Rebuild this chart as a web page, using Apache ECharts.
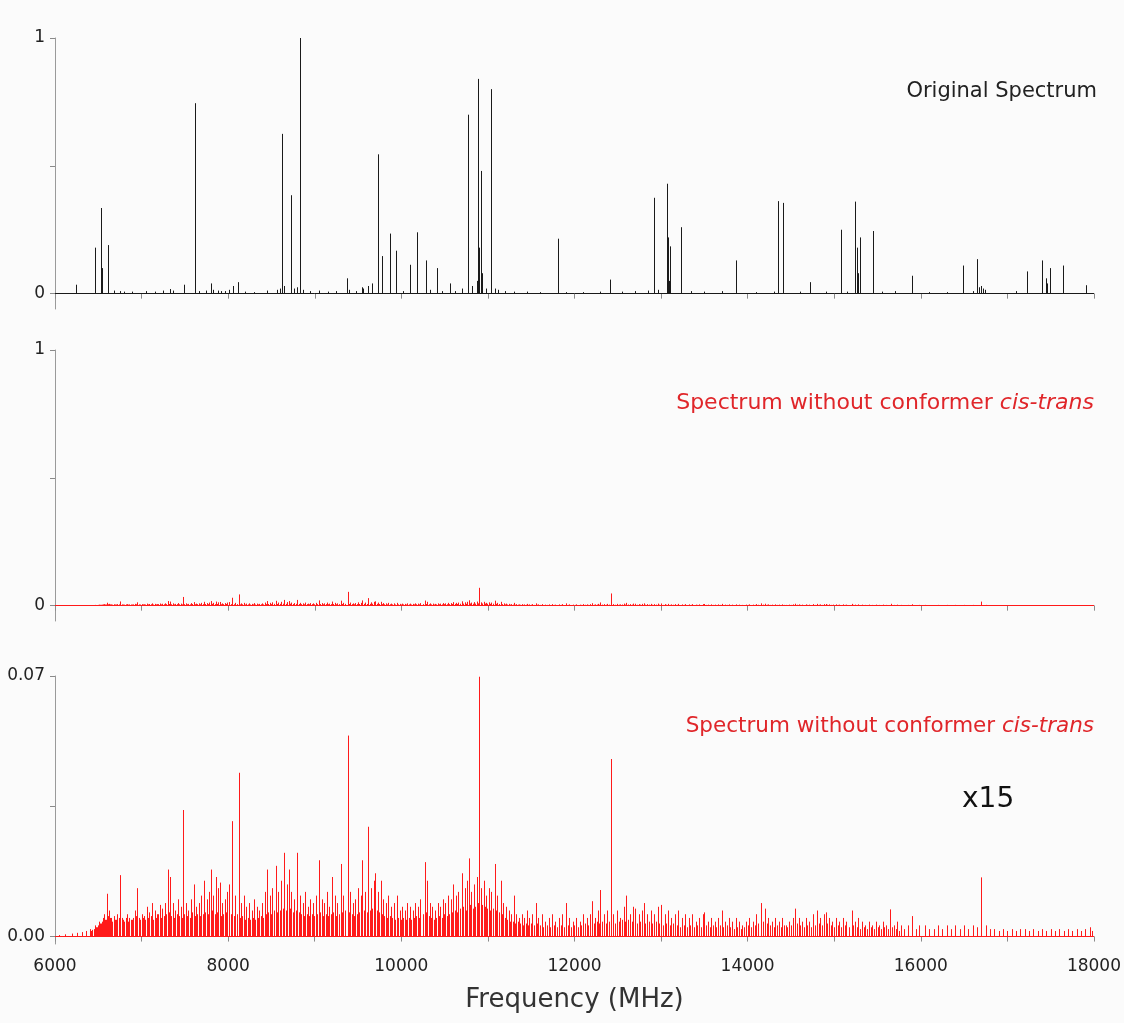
<!DOCTYPE html>
<html>
<head>
<meta charset="utf-8">
<script src="https://cdn.jsdelivr.net/npm/echarts@6/dist/echarts.min.js"></script>
<style>
  html, body { margin: 0; padding: 0; background: #fbfbfb; }
  #main { width: 1124px; height: 1023px; }
</style>
</head>
<body>
<div id="main"></div>
<script>
// original spectrum (normalised intensity)
var origFreq = [
  6246, 6462, 6535, 6542, 6615, 6680, 6750, 6800, 6890, 7050,
  7150, 7250, 7330, 7360, 7485, 7619, 7660, 7740, 7800, 7830,
  7880, 7920, 7960, 8010, 8060, 8108, 8200, 8300, 8450, 8560,
  8600, 8619, 8650, 8720, 8730, 8760, 8800, 8827, 8870, 8950,
  9050, 9150, 9250, 9373, 9400, 9480, 9540, 9560, 9610, 9660,
  9727, 9773, 9866, 9943, 10020, 10096, 10177, 10281, 10330, 10412,
  10470, 10562, 10620, 10700, 10770, 10820, 10870, 10889, 10900, 10915,
  10930, 10980, 11034, 11080, 11120, 11200, 11300, 11450, 11600, 11812,
  11900, 12100, 12300, 12405, 12550, 12700, 12850, 12923, 12960, 13065,
  13081, 13090, 13104, 13235, 13350, 13500, 13700, 13861, 14100, 14300,
  14354, 14412, 14600, 14723, 14900, 15081, 15150, 15239, 15262, 15275,
  15300, 15442, 15550, 15700, 15896, 16100, 16300, 16485, 16600, 16646,
  16670, 16690, 16700, 16720, 16740, 17100, 17231, 17400, 17442, 17455,
  17492, 17642, 17912
];
var origInt = [
  0.035, 0.18, 0.335, 0.10, 0.19, 0.012, 0.01, 0.008, 0.008, 0.01,
  0.008, 0.012, 0.018, 0.012, 0.035, 0.745, 0.01, 0.012, 0.04, 0.015,
  0.012, 0.01, 0.01, 0.015, 0.03, 0.045, 0.008, 0.006, 0.012, 0.015,
  0.02, 0.625, 0.03, 0.375, 0.385, 0.02, 0.025, 1.0, 0.015, 0.01,
  0.012, 0.008, 0.01, 0.06, 0.015, 0.01, 0.025, 0.02, 0.03, 0.04,
  0.545, 0.147, 0.235, 0.168, 0.01, 0.113, 0.24, 0.13, 0.015, 0.10,
  0.01, 0.04, 0.01, 0.02, 0.70, 0.03, 0.05, 0.84, 0.18, 0.48,
  0.08, 0.02, 0.80, 0.02, 0.015, 0.01, 0.008, 0.008, 0.006, 0.215,
  0.006, 0.006, 0.008, 0.055, 0.008, 0.01, 0.012, 0.375, 0.015, 0.43,
  0.22, 0.05, 0.185, 0.26, 0.01, 0.008, 0.01, 0.13, 0.006, 0.008,
  0.362, 0.355, 0.008, 0.045, 0.008, 0.25, 0.008, 0.36, 0.18, 0.08,
  0.22, 0.245, 0.008, 0.01, 0.07, 0.006, 0.006, 0.11, 0.01, 0.135,
  0.025, 0.03, 0.025, 0.02, 0.015, 0.01, 0.087, 0.13, 0.06, 0.04,
  0.10, 0.11, 0.033
];

// spectrum without conformer cis-trans: stronger lines
var redFreq = [
  6050, 6120, 6200, 6250, 6310, 6360, 6400, 6430, 6460, 6490,
  6510, 6530, 6550, 6570, 6590, 6600, 6620, 6640, 6660, 6680,
  6700, 6720, 6750, 6770, 6800, 6830, 6860, 6890, 6920, 6950,
  6970, 7000, 7030, 7060, 7090, 7120, 7150, 7180, 7210, 7240,
  7270, 7300, 7330, 7360, 7390, 7420, 7450, 7480, 7510, 7540,
  7570, 7600, 7630, 7660, 7690, 7720, 7750, 7780, 7800, 7830,
  7860, 7880, 7900, 7930, 7960, 7990, 8010, 8050, 8080, 8120,
  8150, 8180, 8210, 8240, 8270, 8300, 8330, 8360, 8390, 8420,
  8450, 8480, 8510, 8550, 8580, 8610, 8650, 8680, 8700, 8730,
  8760, 8800, 8830, 8860, 8890, 8920, 8950, 8980, 9010, 9050,
  9080, 9110, 9140, 9170, 9200, 9230, 9260, 9300, 9330, 9380,
  9410, 9440, 9470, 9500, 9530, 9550, 9580, 9620, 9650, 9680,
  9700, 9730, 9760, 9790, 9820, 9850, 9880, 9910, 9950, 9980,
  10010, 10040, 10070, 10100, 10130, 10160, 10190, 10220, 10270, 10300,
  10330, 10360, 10390, 10420, 10450, 10480, 10510, 10540, 10570, 10600,
  10630, 10660, 10700, 10730, 10760, 10780, 10810, 10840, 10870, 10900,
  10920, 10950, 10980, 11010, 11040, 11080, 11110, 11150, 11180, 11210,
  11240, 11270, 11300, 11330, 11360, 11390, 11420, 11450, 11480, 11510,
  11550, 11580, 11620, 11660, 11700, 11740, 11780, 11820, 11860, 11900,
  11940, 11980, 12020, 12060, 12100, 12140, 12180, 12200, 12240, 12270,
  12300, 12340, 12380, 12420, 12450, 12490, 12530, 12570, 12600, 12640,
  12680, 12700, 12740, 12780, 12800, 12840, 12880, 12920, 12960, 13000,
  13040, 13080, 13120, 13160, 13200, 13240, 13280, 13320, 13360, 13400,
  13440, 13480, 13500, 13540, 13580, 13620, 13660, 13700, 13740, 13780,
  13820, 13860, 13900, 13940, 13980, 14020, 14060, 14100, 14150, 14200,
  14240, 14280, 14320, 14360, 14400, 14440, 14480, 14520, 14550, 14590,
  14630, 14670, 14710, 14750, 14800, 14840, 14880, 14900, 14940, 14980,
  15020, 15060, 15100, 15140, 15200, 15240, 15280, 15320, 15360, 15400,
  15440, 15480, 15520, 15560, 15600, 15650, 15690, 15730, 15770, 15810,
  15850, 15900, 15940, 15980, 16050, 16100, 16150, 16200, 16250, 16300,
  16350, 16400, 16450, 16500, 16550, 16600, 16650, 16700, 16750, 16800,
  16850, 16900, 16950, 17000, 17050, 17100, 17150, 17200, 17250, 17300,
  17350, 17400, 17450, 17500, 17550, 17600, 17650, 17700, 17750, 17800,
  17850, 17900, 17950, 17980
];
var redInt = [
  .0004, .0006, .0008, .0010, .0012, .0015, .0020, .0018, .0030, .0025,
  .0040, .0035, .0050, .0060, .0045, .0115, .0070, .0050, .0040, .0055,
  .0045, .0060, .0165, .0050, .0040, .0060, .0050, .0045, .0070, .0130,
  .0050, .0060, .0055, .0080, .0065, .0090, .0070, .0060, .0085, .0075,
  .0090, .0180, .0160, .0090, .0070, .0100, .0080, .0340, .0090, .0070,
  .0100, .0140, .0080, .0090, .0110, .0150, .0100, .0120, .0180, .0110,
  .0160, .0130, .0145, .0090, .0100, .0120, .0140, .0310, .0110, .0440,
  .0090, .0110, .0080, .0090, .0070, .0100, .0080, .0070, .0090, .0120,
  .0180, .0110, .0130, .0190, .0120, .0150, .0225, .0140, .0180, .0120,
  .0100, .0225, .0110, .0090, .0120, .0080, .0100, .0090, .0110, .0205,
  .0100, .0090, .0120, .0080, .0160, .0110, .0090, .0195, .0110, .0540,
  .0120, .0090, .0100, .0130, .0110, .0205, .0120, .0295, .0130, .0150,
  .0170, .0120, .0150, .0100, .0090, .0110, .0080, .0090, .0110, .0070,
  .0080, .0070, .0090, .0080, .0070, .0090, .0080, .0100, .0200, .0150,
  .0090, .0080, .0070, .0090, .0080, .0100, .0090, .0110, .0100, .0140,
  .0110, .0120, .0170, .0130, .0150, .0210, .0120, .0140, .0160, .0698,
  .0130, .0150, .0110, .0130, .0120, .0195, .0110, .0150, .0090, .0080,
  .0070, .0060, .0110, .0060, .0050, .0060, .0050, .0070, .0050, .0060,
  .0090, .0050, .0060, .0040, .0050, .0060, .0040, .0050, .0060, .0090,
  .0050, .0040, .0050, .0040, .0060, .0050, .0060, .0095, .0050, .0070,
  .0125, .0060, .0070, .0477, .0060, .0070, .0050, .0080, .0110, .0060,
  .0080, .0075, .0060, .0070, .0090, .0060, .0070, .0060, .0080, .0085,
  .0060, .0070, .0050, .0060, .0070, .0050, .0060, .0050, .0060, .0040,
  .0050, .0060, .0065, .0040, .0050, .0040, .0050, .0070, .0040, .0050,
  .0040, .0050, .0040, .0030, .0040, .0050, .0040, .0060, .0090, .0075,
  .0050, .0040, .0050, .0040, .0050, .0030, .0040, .0050, .0075, .0050,
  .0040, .0050, .0040, .0060, .0070, .0050, .0060, .0065, .0050, .0040,
  .0050, .0040, .0050, .0040, .0070, .0040, .0050, .0040, .0030, .0040,
  .0030, .0040, .0030, .0040, .0030, .0073, .0030, .0040, .0030, .0020,
  .0030, .0055, .0020, .0030, .0030, .0020, .0020, .0030, .0020, .0030,
  .0020, .0030, .0020, .0030, .0020, .0030, .0025, .0159, .0030, .0020,
  .0020, .0015, .0020, .0015, .0020, .0015, .0020, .0020, .0015, .0020,
  .0015, .0020, .0015, .0020, .0015, .0020, .0015, .0020, .0015, .0020,
  .0015, .0020, .0025, .0015
];

// spectrum without conformer cis-trans: weak background lines
var weakFreq = [
  6415, 6445, 6475, 6500, 6520, 6545, 6580, 6610, 6650, 6690,
  6735, 6785, 6815, 6845, 6875, 6905, 6935, 6985, 7015, 7045,
  7075, 7105, 7135, 7165, 7195, 7225, 7255, 7285, 7315, 7345,
  7375, 7405, 7435, 7465, 7495, 7525, 7555, 7585, 7615, 7645,
  7675, 7705, 7735, 7765, 7815, 7845, 7870, 7915, 7945, 7975,
  8030, 8065, 8100, 8135, 8165, 8195, 8225, 8255, 8285, 8315,
  8345, 8375, 8405, 8435, 8465, 8495, 8530, 8565, 8595, 8630,
  8665, 8715, 8745, 8780, 8815, 8845, 8875, 8905, 8935, 8965,
  8995, 9030, 9065, 9095, 9125, 9155, 9185, 9215, 9245, 9280,
  9315, 9350, 9395, 9425, 9455, 9485, 9515, 9565, 9600, 9635,
  9665, 9715, 9745, 9775, 9805, 9835, 9865, 9895, 9930, 9965,
  9995, 10025, 10055, 10085, 10115, 10145, 10175, 10205, 10245, 10285,
  10315, 10345, 10375, 10405, 10435, 10465, 10495, 10525, 10555, 10585,
  10615, 10645, 10680, 10715, 10745, 10795, 10825, 10855, 10885, 10935,
  10965, 10995, 11025, 11060, 11095, 11130, 11165, 11195, 11225, 11255,
  11285, 11315, 11345, 11375, 11405, 11435, 11465, 11495, 11530, 11565,
  11600, 11640, 11680, 11720, 11760, 11800, 11840, 11880, 11920, 11960,
  12000, 12040, 12080, 12120, 12160, 12220, 12255, 12285, 12320, 12360,
  12400, 12470, 12510, 12550, 12585, 12620, 12660, 12720, 12760, 12820,
  12860, 12900, 12940, 12980, 13020, 13060, 13100, 13140, 13180, 13220,
  13260, 13300, 13340, 13380, 13420, 13460, 13520, 13560, 13600, 13640,
  13680, 13720, 13760, 13800, 13840, 13880, 13920, 13960, 14000, 14040,
  14080, 14125, 14175, 14220, 14260, 14300, 14340, 14380, 14420, 14460,
  14500, 14570, 14610, 14650, 14690, 14730, 14775, 14820, 14860, 14920,
  14960, 15000, 15040, 15080, 15120, 15170, 15220, 15260, 15300, 15340,
  15380, 15420, 15460, 15500, 15540, 15580, 15620, 15670, 15710, 15750
];
var weakInt = [
  .0015, .0020, .0025, .0030, .0035, .0040, .0045, .0055, .0050, .0045,
  .0050, .0045, .0050, .0040, .0045, .0050, .0055, .0045, .0050, .0045,
  .0050, .0055, .0045, .0050, .0060, .0050, .0055, .0060, .0065, .0055,
  .0050, .0060, .0055, .0050, .0060, .0055, .0050, .0065, .0055, .0060,
  .0055, .0060, .0065, .0060, .0070, .0060, .0065, .0055, .0060, .0065,
  .0060, .0055, .0060, .0050, .0055, .0045, .0050, .0045, .0050, .0045,
  .0050, .0055, .0050, .0060, .0065, .0060, .0070, .0065, .0070, .0075,
  .0070, .0075, .0065, .0070, .0065, .0060, .0055, .0060, .0055, .0060,
  .0055, .0060, .0065, .0055, .0060, .0055, .0060, .0065, .0055, .0060,
  .0065, .0070, .0065, .0060, .0055, .0060, .0065, .0070, .0065, .0070,
  .0075, .0070, .0065, .0060, .0055, .0050, .0055, .0050, .0045, .0050,
  .0045, .0050, .0045, .0050, .0045, .0050, .0055, .0050, .0060, .0065,
  .0055, .0050, .0045, .0050, .0055, .0050, .0060, .0055, .0060, .0065,
  .0070, .0065, .0075, .0080, .0070, .0085, .0075, .0080, .0090, .0085,
  .0080, .0075, .0070, .0075, .0070, .0065, .0060, .0050, .0045, .0040,
  .0040, .0035, .0040, .0035, .0030, .0035, .0030, .0035, .0030, .0035,
  .0030, .0025, .0030, .0025, .0030, .0025, .0030, .0025, .0030, .0025,
  .0030, .0025, .0030, .0035, .0030, .0035, .0040, .0035, .0040, .0035,
  .0040, .0035, .0040, .0045, .0040, .0045, .0040, .0035, .0040, .0035,
  .0040, .0035, .0040, .0035, .0030, .0035, .0030, .0035, .0030, .0025,
  .0030, .0025, .0030, .0025, .0030, .0025, .0030, .0025, .0030, .0025,
  .0030, .0025, .0030, .0025, .0020, .0025, .0020, .0025, .0030, .0025,
  .0030, .0035, .0040, .0035, .0030, .0025, .0030, .0025, .0030, .0025,
  .0030, .0035, .0030, .0025, .0030, .0025, .0030, .0035, .0030, .0035,
  .0030, .0025, .0030, .0025, .0030, .0025, .0030, .0025, .0020, .0025,
  .0020, .0025, .0020, .0025, .0020, .0025, .0020, .0025, .0020, .0015
];

var xTicks = [6000, 18000, 1000];

function pairs(fs, vs) {
  var out = [];
  for (var i = 0; i < fs.length; i++) out.push([fs[i], vs[i]]);
  return out;
}

function sticks(color) {
  return function (params, api) {
    var p0 = api.coord([api.value(0), 0]);
    var p1 = api.coord([api.value(0), api.value(1)]);
    var x = Math.round(p0[0]) + 0.5;
    return {
      type: 'line',
      shape: { x1: x, y1: p0[1], x2: x, y2: p1[1] },
      style: { stroke: color, lineWidth: 1 }
    };
  };
}

function xAxis(idx, labels) {
  return {
    type: 'value',
    gridIndex: idx,
    min: xTicks[0],
    max: xTicks[1],
    interval: xTicks[2],
    axisLine: { lineStyle: { color: '#9a9a9a', width: 1 } },
    axisTick: { length: 5, lineStyle: { color: '#8a8a8a' } },
    splitLine: { show: false },
    axisLabel: {
      show: labels,
      margin: 14,
      color: '#222',
      fontSize: 17,
      fontFamily: 'DejaVu Sans',
      formatter: function (v) { return v % 2000 === 0 ? String(v) : ''; }
    },
    name: labels ? 'Frequency (MHz)' : '',
    nameLocation: 'middle',
    nameGap: 43,
    nameTextStyle: { fontSize: 26, color: '#333', fontFamily: 'DejaVu Sans' }
  };
}

function yAxis(idx, min, max, ticks, labels, fmt) {
  return {
    type: 'value',
    gridIndex: idx,
    min: min,
    max: max,
    axisLine: { show: true, lineStyle: { color: '#9a9a9a', width: 1 } },
    axisTick: { show: true, length: 5, customValues: ticks, lineStyle: { color: '#8a8a8a' } },
    splitLine: { show: false },
    axisLabel: {
      customValues: labels,
      margin: 10,
      color: '#222',
      fontSize: 17,
      fontFamily: 'DejaVu Sans',
      formatter: fmt
    }
  };
}

function baseline(color) {
  return {
    silent: true,
    symbol: 'none',
    label: { show: false },
    lineStyle: { color: color, width: 1, type: 'solid' },
    data: [{ yAxis: 0 }]
  };
}

function redLabel(size) {
  return {
    text: '{n|Spectrum without conformer }{i|cis-trans}',
    rich: {
      n: { fill: '#e0262a', fontSize: size, fontFamily: 'DejaVu Sans' },
      i: { fill: '#e0262a', fontSize: size, fontFamily: 'DejaVu Sans', fontStyle: 'italic' }
    }
  };
}

var red = '#ff1a1a';
var redData = pairs(weakFreq, weakInt).concat(pairs(redFreq, redInt));
var chart = echarts.init(document.getElementById('main'));

chart.setOption({
  backgroundColor: '#fbfbfb',
  animation: false,
  grid: [
    { left: 55, right: 30, top: 38, height: 271 },
    { left: 55, right: 30, top: 350, height: 271 },
    { left: 55, right: 30, top: 676, height: 268 }
  ],
  xAxis: [xAxis(0, false), xAxis(1, false), xAxis(2, true)],
  yAxis: [
    yAxis(0, -0.06, 1, [0, 0.5, 1], [0, 1], function (v) { return String(v); }),
    yAxis(1, -0.06, 1, [0, 0.5, 1], [0, 1], function (v) { return String(v); }),
    yAxis(2, -0.002, 0.07, [0, 0.035, 0.07], [0, 0.07], function (v) { return v.toFixed(2); })
  ],
  series: [
    {
      type: 'custom', xAxisIndex: 0, yAxisIndex: 0,
      renderItem: sticks('#1a1a1a'),
      data: pairs(origFreq, origInt),
      markLine: baseline('#1a1a1a')
    },
    {
      type: 'custom', xAxisIndex: 1, yAxisIndex: 1,
      renderItem: sticks(red),
      data: redData,
      markLine: baseline(red)
    },
    {
      type: 'custom', xAxisIndex: 2, yAxisIndex: 2,
      renderItem: sticks(red),
      data: redData,
      markLine: baseline(red)
    }
  ],
  graphic: [
    {
      type: 'text', right: 27, top: 81,
      style: { text: 'Original Spectrum', fill: '#222', font: '21px "DejaVu Sans"' }
    },
    { type: 'text', right: 30, top: 392, style: redLabel(22) },
    { type: 'text', right: 30, top: 715, style: redLabel(21.5) },
    {
      type: 'text', left: 962, top: 786,
      style: { text: 'x15', fill: '#111', font: '28px "DejaVu Sans"' }
    }
  ]
});
</script>
</body>
</html>
